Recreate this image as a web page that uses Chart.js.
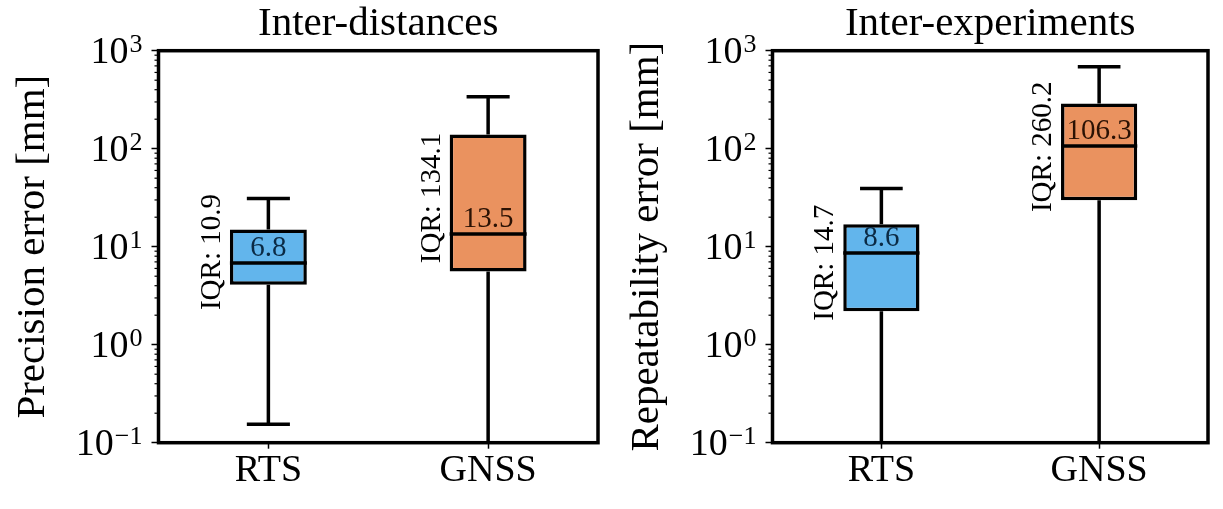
<!DOCTYPE html>
<html lang="en">
<head>
<meta charset="UTF-8">
<title>Box plots</title>
<script src="https://cdn.jsdelivr.net/npm/chart.js@4.4.1/dist/chart.umd.min.js"></script>
<style>
  html, body { margin: 0; padding: 0; background: #fff; }
  #wrap { position: relative; width: 1223px; height: 509px; }
  canvas { position: absolute; top: 0; }
  #c1 { left: 0; }
  #c2 { left: 610px; }
</style>
</head>
<body>
<div id="wrap">
  <canvas id="c1" width="610" height="509"></canvas>
  <canvas id="c2" width="613" height="509"></canvas>
</div>

<script>
// data
var categories = ['RTS', 'GNSS'];

// Inter-distances (precision error, mm)
var distMin = [0.154, 0.05];
var distQ1  = [4.1, 5.6];
var distMed = [6.8, 13.5];
var distQ3  = [15.0, 139.7];
var distMax = [31, 339];

// Inter-experiments (repeatability error, mm)
var expMin = [0.05, 0.05];
var expQ1  = [2.2, 29.8];
var expMed = [8.6, 106.3];
var expQ3  = [16.9, 290.0];
var expMax = [39.3, 687];

// y axis ticks
var tickExponents = [-1, 0, 1, 2, 3];
var minorSteps = [2, 3, 4, 5, 6, 7, 8, 9];

var SERIF = "'Liberation Serif', 'Times New Roman', serif";
var boxColors = ['#62b5ec', '#ea925f'];
var medTextColors = ['#0b2a44', '#2b1204'];

function line(ctx, x1, y1, x2, y2) {
    ctx.beginPath();
    ctx.moveTo(x1, y1);
    ctx.lineTo(x2, y2);
    ctx.stroke();
}

var boxExtras = {
    id: 'boxExtras',
    afterDatasetsDraw: function(chart, args, opts) {
        var ctx = chart.ctx;
        var a = chart.chartArea;
        var y = chart.scales.y;
        var s = opts.stats;
        var bars = chart.getDatasetMeta(0).data;

        // whiskers, caps and medians
        ctx.save();
        ctx.beginPath();
        ctx.rect(a.left, a.top, a.right - a.left, a.bottom - a.top);
        ctx.clip();
        ctx.strokeStyle = '#000';
        ctx.lineWidth = 3.5;
        ctx.lineCap = 'butt';
        bars.forEach(function(bar, i) {
            var cx = bar.x, half = bar.width / 2, cap = bar.width * 0.28;
            var pMin = y.getPixelForValue(s.min[i]);
            var pQ1 = y.getPixelForValue(s.q1[i]);
            var pMed = y.getPixelForValue(s.med[i]);
            var pQ3 = y.getPixelForValue(s.q3[i]);
            var pMax = y.getPixelForValue(s.max[i]);
            line(ctx, cx, pQ3, cx, pMax);
            line(ctx, cx - cap, pMax, cx + cap, pMax);
            line(ctx, cx, pQ1, cx, pMin);
            line(ctx, cx - cap, pMin, cx + cap, pMin);
            line(ctx, cx - half, pMed, cx + half, pMed);
        });
        ctx.restore();

        // frame
        ctx.save();
        ctx.strokeStyle = '#000';
        ctx.lineWidth = 3.5;
        ctx.strokeRect(a.left, a.top, a.right - a.left, a.bottom - a.top);

        // minor ticks
        ctx.lineWidth = 1.2;
        tickExponents.forEach(function(e) {
            minorSteps.forEach(function(m) {
                var v = m * Math.pow(10, e);
                if (v >= y.max) return;
                var py = y.getPixelForValue(v);
                line(ctx, a.left - 4, py, a.left, py);
            });
        });

        // y tick labels 10^n
        ctx.fillStyle = '#000';
        ctx.textBaseline = 'alphabetic';
        ctx.textAlign = 'left';
        tickExponents.forEach(function(e) {
            var py = y.getPixelForValue(Math.pow(10, e));
            var expText = e < 0 ? '\u2212' + Math.abs(e) : String(e);
            ctx.font = '26px ' + SERIF;
            var ew = ctx.measureText(expText).width;
            ctx.font = '38px ' + SERIF;
            var bw = ctx.measureText('10').width;
            var right = a.left - 16;
            ctx.fillText('10', right - ew - 1 - bw, py + 12.5);
            ctx.font = '26px ' + SERIF;
            ctx.fillText(expText, right - ew, py + 1);
        });

        // median and IQR labels
        ctx.font = '29px ' + SERIF;
        bars.forEach(function(bar, i) {
            var cx = bar.x, half = bar.width / 2;
            var pQ1 = y.getPixelForValue(s.q1[i]);
            var pMed = y.getPixelForValue(s.med[i]);
            var pQ3 = y.getPixelForValue(s.q3[i]);
            ctx.textAlign = 'center';
            ctx.textBaseline = 'alphabetic';
            ctx.fillStyle = medTextColors[i];
            ctx.fillText(s.med[i].toFixed(1), cx, pMed - 7);

            ctx.save();
            ctx.fillStyle = '#000';
            ctx.translate(cx - half - 10, (pQ1 + pQ3) / 2 - 5);
            ctx.rotate(-Math.PI / 2);
            ctx.fillText('IQR: ' + (s.q3[i] - s.q1[i]).toFixed(1), 0, 0);
            ctx.restore();
        });
        ctx.restore();
    }
};

function makeChart(id, title, yTitle, q1, med, q3, mn, mx, yWidth, padRight, titlePad) {
    var boxes = q1.map(function(v, i) { return [v, q3[i]]; });
    return new Chart(document.getElementById(id), {
        type: 'bar',
        data: {
            labels: categories,
            datasets: [{
                data: boxes,
                backgroundColor: boxColors,
                borderColor: '#000',
                borderWidth: 3.5,
                borderSkipped: false,
                barPercentage: 0.35,
                categoryPercentage: 1.0
            }]
        },
        options: {
            responsive: false,
            animation: false,
            layout: { padding: { left: 0, right: padRight, top: 0, bottom: 0 } },
            plugins: {
                legend: { display: false },
                tooltip: { enabled: false },
                title: {
                    display: true,
                    text: title,
                    color: '#000',
                    fullSize: false,
                    font: { family: SERIF, size: 41, weight: 'normal', lineHeight: 1.2 },
                    padding: { top: 0, bottom: 1.5 }
                },
                boxExtras: { stats: { min: mn, q1: q1, med: med, q3: q3, max: mx } }
            },
            scales: {
                x: {
                    offset: true,
                    grid: { display: true, drawOnChartArea: false, offset: false, tickLength: 6, tickWidth: 1.5, tickColor: '#000' },
                    border: { display: false },
                    ticks: { color: '#000', padding: 0, font: { family: SERIF, size: 38 } },
                    afterFit: function(sc) { sc.height = 66.3; }
                },
                y: {
                    type: 'logarithmic',
                    min: 0.1,
                    max: 1000,
                    grid: { display: true, drawOnChartArea: false, tickLength: 7, tickWidth: 1.5, tickColor: '#000' },
                    border: { display: false },
                    ticks: { display: false },
                    title: {
                        display: true,
                        text: yTitle,
                        color: '#000',
                        font: { family: SERIF, size: 41, lineHeight: 1 },
                        padding: { top: titlePad, bottom: 0 }
                    },
                    afterBuildTicks: function(sc) {
                        sc.ticks = tickExponents.map(function(e) { return { value: Math.pow(10, e) }; });
                    },
                    afterFit: function(sc) { sc.width = yWidth; }
                }
            }
        },
        plugins: [boxExtras]
    });
}

makeChart('c1', 'Inter-distances', 'Precision error [mm]',
    distQ1, distMed, distQ3, distMin, distMax, 158.5, 12, 12.5);
makeChart('c2', 'Inter-experiments', 'Repeatability error [mm]',
    expQ1, expMed, expQ3, expMin, expMax, 162.5, 15, 16.5);
</script>
</body>
</html>
